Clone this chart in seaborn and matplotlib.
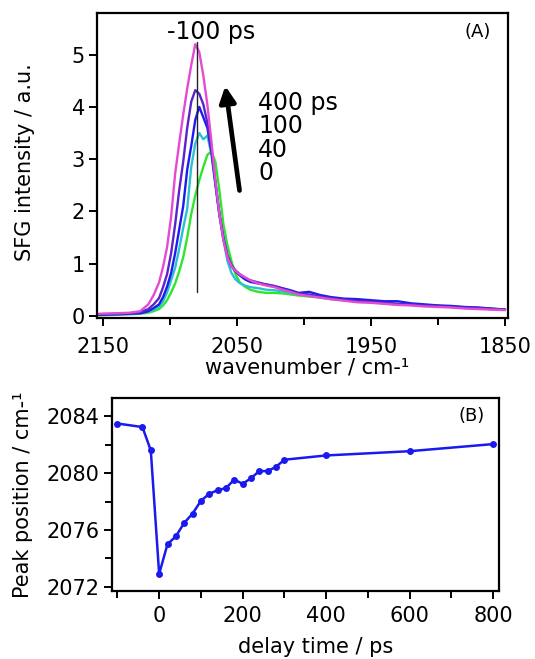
import numpy as np
import pandas as pd
import matplotlib
matplotlib.use("Agg")
import matplotlib.pyplot as plt
import seaborn as sns
from matplotlib.ticker import MultipleLocator, FixedLocator

# ---- panel A: SFG spectra ----
wavenumber = [2154, 2140, 2130, 2122, 2116, 2112, 2108, 2105, 2102, 2099,
              2096, 2093, 2090, 2087, 2084, 2081, 2078, 2075, 2072, 2069,
              2066, 2063, 2060, 2057, 2054, 2051, 2048, 2044, 2040, 2034,
              2028, 2022, 2016, 2010, 2004, 1996, 1988, 1980, 1970, 1960,
              1950, 1940, 1930, 1920, 1910, 1900, 1890, 1880, 1870, 1860, 1850]

spec_m100 = [0.04, 0.05, 0.06, 0.09, 0.22, 0.40, 0.64, 0.94, 1.32, 1.90,
             2.72, 3.30, 3.85, 4.35, 4.80, 5.20, 5.05, 4.60, 4.05, 3.35,
             2.60, 1.95, 1.45, 1.12, 0.95, 0.86, 0.80, 0.74, 0.68, 0.62,
             0.58, 0.55, 0.50, 0.46, 0.41, 0.38, 0.35, 0.32, 0.29, 0.26,
             0.25, 0.23, 0.21, 0.20, 0.18, 0.17, 0.16, 0.14, 0.13, 0.12, 0.11]
spec_400 = [0.03, 0.04, 0.05, 0.07, 0.13, 0.22, 0.34, 0.55, 0.80, 1.20,
            1.75, 2.40, 2.95, 3.60, 4.10, 4.32, 4.25, 4.05, 3.70, 3.20,
            2.55, 1.95, 1.48, 1.15, 0.97, 0.87, 0.80, 0.73, 0.68, 0.64,
            0.60, 0.57, 0.52, 0.47, 0.43, 0.41, 0.37, 0.34, 0.31, 0.29,
            0.27, 0.25, 0.23, 0.22, 0.20, 0.19, 0.17, 0.16, 0.15, 0.13, 0.12]
spec_100 = [0.02, 0.03, 0.04, 0.05, 0.09, 0.15, 0.22, 0.36, 0.56, 0.82,
            1.20, 1.65, 2.10, 2.80, 3.25, 3.75, 4.00, 3.80, 3.60, 3.15,
            2.55, 1.95, 1.50, 1.15, 0.95, 0.85, 0.78, 0.70, 0.65, 0.62,
            0.60, 0.57, 0.53, 0.49, 0.44, 0.46, 0.40, 0.36, 0.33, 0.32,
            0.30, 0.28, 0.28, 0.24, 0.22, 0.20, 0.19, 0.17, 0.16, 0.14, 0.12]
spec_40 = [0.02, 0.03, 0.04, 0.05, 0.08, 0.12, 0.18, 0.28, 0.45, 0.68,
           0.92, 1.28, 1.68, 2.05, 2.85, 3.30, 3.50, 3.38, 3.45, 3.10,
           2.50, 1.92, 1.45, 1.05, 0.82, 0.70, 0.63, 0.58, 0.55, 0.53,
           0.50, 0.49, 0.47, 0.44, 0.41, 0.39, 0.37, 0.34, 0.31, 0.29,
           0.27, 0.25, 0.23, 0.21, 0.20, 0.19, 0.18, 0.16, 0.15, 0.13, 0.12]
spec_0 = [0.01, 0.02, 0.03, 0.04, 0.06, 0.09, 0.13, 0.20, 0.30, 0.45,
          0.62, 0.85, 1.12, 1.50, 1.95, 2.30, 2.60, 2.85, 3.08, 3.15,
          2.95, 2.40, 1.75, 1.35, 1.05, 0.80, 0.65, 0.56, 0.50, 0.46,
          0.44, 0.44, 0.43, 0.41, 0.39, 0.37, 0.35, 0.32, 0.30, 0.28,
          0.26, 0.24, 0.22, 0.21, 0.20, 0.19, 0.18, 0.16, 0.15, 0.14, 0.12]

delays = ["0", "40", "100", "400", "-100"]
spectra = [spec_0, spec_40, spec_100, spec_400, spec_m100]
colors = ["#2ee62e", "#2cc0d4", "#1c1cf0", "#5a24c8", "#e44ad4"]
delay_labels = ["400 ps", "100", "40", "0"]

# ---- panel B: peak position vs delay ----
delay_ps = [-100, -40, -20, 0, 20, 40, 60, 80, 100, 120, 140, 160, 180, 200,
            220, 240, 260, 280, 300, 400, 600, 800]
peak_pos = [2083.5, 2083.25, 2081.6, 2072.9, 2075.0, 2075.55, 2076.5, 2077.15,
            2078.05, 2078.55, 2078.8, 2078.95, 2079.55, 2079.25, 2079.65,
            2080.15, 2080.15, 2080.45, 2080.95, 2081.25, 2081.55, 2082.05]

sns.set_style("ticks")
plt.rcParams["font.family"] = ["DejaVu Sans"]
plt.rcParams["font.size"] = 15
for k in ("text.color", "axes.labelcolor", "xtick.color", "ytick.color"):
    plt.rcParams[k] = "black"

df = pd.DataFrame({
    "wn": np.tile(wavenumber, len(delays)),
    "I": np.concatenate(spectra),
    "delay": np.repeat(delays, len(wavenumber)),
})

fig = plt.figure(figsize=(5.35, 6.59), dpi=100)
ax1 = fig.add_axes([0.182, 0.5175, 0.767, 0.463])
ax2 = fig.add_axes([0.2093, 0.1032, 0.7234, 0.2929])

sns.lineplot(data=df, x="wn", y="I", hue="delay", hue_order=delays,
             palette=colors, lw=1.7, legend=False, ax=ax1, estimator=None)
ax1.plot([2080, 2080], [0.45, 5.25], color="#222222", lw=1.0)
ax1.set_xlim(2154, 1848)
ax1.set_ylim(-0.04, 5.8)
ax1.xaxis.set_major_locator(FixedLocator([2150, 2050, 1950, 1850]))
ax1.xaxis.set_minor_locator(FixedLocator([2100, 2000, 1900]))
ax1.yaxis.set_major_locator(MultipleLocator(1))
ax1.set_xlabel("wavenumber / cm-¹")
ax1.set_ylabel("SFG intensity / a.u.")
ax1.xaxis.set_label_coords(0.51, -0.13)
ax1.yaxis.set_label_coords(-0.152, 0.51)

ax1.text(2069, 5.44, "-100 ps", ha="center", va="center", fontsize=17)
for lab, yy in zip(delay_labels, [4.08, 3.64, 3.18, 2.74]):
    ax1.text(2034, yy, lab, ha="left", va="center", fontsize=17)
ax1.annotate("", xy=(2058.6, 4.4), xytext=(2048, 2.4),
             arrowprops=dict(arrowstyle="-|>", lw=3.4, color="black",
                             mutation_scale=24, shrinkA=0, shrinkB=0))
ax1.text(0.927, 0.938, "(A)", transform=ax1.transAxes, ha="center",
         va="center", fontsize=13)

sns.lineplot(x=delay_ps, y=peak_pos, ax=ax2, color="#1a1aee", lw=1.8,
             marker="o", markersize=5, markeredgewidth=0, sort=False)
ax2.set_xlim(-113, 814)
ax2.set_ylim(2071.7, 2085.3)
ax2.xaxis.set_major_locator(MultipleLocator(200))
ax2.xaxis.set_minor_locator(MultipleLocator(100))
ax2.yaxis.set_major_locator(MultipleLocator(4))
ax2.yaxis.set_minor_locator(MultipleLocator(2))
ax2.set_xlabel("delay time / ps")
ax2.set_ylabel("Peak position / cm-¹")
ax2.xaxis.set_label_coords(0.525, -0.24)
ax2.yaxis.set_label_coords(-0.204, 0.5)
ax2.text(0.93, 0.907, "(B)", transform=ax2.transAxes, ha="center",
         va="center", fontsize=13)

for ax in (ax1, ax2):
    for s in ax.spines.values():
        s.set_visible(True)
        s.set_linewidth(1.6)
        s.set_color("black")
    ax.tick_params(which="major", direction="out", length=6, width=1.4,
                   labelsize=15, pad=3)
    ax.tick_params(which="minor", direction="out", length=5, width=1.4)
ax1.tick_params(axis="x", which="major", pad=8)
ax2.tick_params(axis="x", which="major", pad=5)

fig.savefig("out.png", dpi=100)
